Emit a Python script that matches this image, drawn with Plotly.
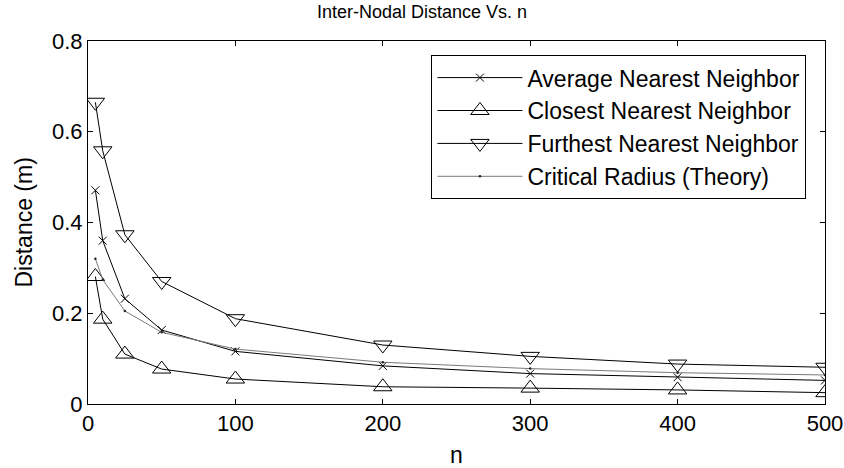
import plotly.graph_objects as go

n_vals = [5, 10, 25, 50, 100, 200, 300, 400, 500]
avg_nn = [0.471, 0.360, 0.232, 0.163, 0.116, 0.084, 0.067, 0.059, 0.052]
closest_nn = [0.281, 0.187, 0.110, 0.077, 0.055, 0.038, 0.035, 0.031, 0.025]
furthest_nn = [0.665, 0.558, 0.373, 0.270, 0.188, 0.130, 0.105, 0.088, 0.081]
critical_r = [0.320, 0.274, 0.205, 0.158, 0.121, 0.092, 0.078, 0.069, 0.064]

x_ticks = [0, 100, 200, 300, 400, 500]
y_ticks = [0, 0.2, 0.4, 0.6, 0.8]

FONT = "Liberation Sans, Arial, sans-serif"

fig = go.Figure()
fig.add_trace(go.Scatter(
    x=n_vals, y=avg_nn, name="Average Nearest Neighbor", mode="lines+markers",
    line=dict(color="#000000", width=1),
    marker=dict(symbol="x-thin-open", size=8, color="#000000", line=dict(width=1, color="#000000"))))
fig.add_trace(go.Scatter(
    x=n_vals, y=closest_nn, name="Closest Nearest Neighbor", mode="lines+markers",
    line=dict(color="#000000", width=1),
    marker=dict(symbol="triangle-up-open", size=16, color="#000000", line=dict(width=1, color="#000000"))))
fig.add_trace(go.Scatter(
    x=n_vals, y=furthest_nn, name="Furthest Nearest Neighbor", mode="lines+markers",
    line=dict(color="#000000", width=1),
    marker=dict(symbol="triangle-down-open", size=16, color="#000000", line=dict(width=1, color="#000000"))))
fig.add_trace(go.Scatter(
    x=n_vals, y=critical_r, name="Critical Radius (Theory)", mode="lines+markers",
    line=dict(color="#7a7a7a", width=1),
    marker=dict(symbol="circle", size=2.5, color="#222222")))

fig.update_layout(
    width=844, height=468,
    margin=dict(l=88, r=19, t=41, b=64),
    paper_bgcolor="white", plot_bgcolor="white",
    font=dict(family=FONT, size=22, color="#000000"),
    title=dict(text="Inter-Nodal Distance Vs. n", x=0.5, xref="container", xanchor="center",
               y=0.975, yref="container", yanchor="middle",
               font=dict(family=FONT, size=18, color="#000000")),
    showlegend=True,
    legend=dict(x=0.466, y=0.961, xanchor="left", yanchor="top",
                bgcolor="white", bordercolor="#000000", borderwidth=1,
                font=dict(family=FONT, size=23, color="#000000"),
                itemwidth=85, tracegroupgap=0,
                entrywidth=384, entrywidthmode="pixels"),
    annotations=[dict(text="Distance (m)", textangle=-90, xref="paper", yref="paper",
                      x=-(88 - 23) / 737, y=0.5, xanchor="center", yanchor="middle",
                      showarrow=False, font=dict(family=FONT, size=23, color="#000000"))],
)
fig.update_xaxes(
    range=[0, 500], tickvals=x_ticks, ticktext=[str(v) for v in x_ticks],
    showline=True, linecolor="#000000", linewidth=1, mirror="ticks",
    ticks="inside", ticklen=5, tickcolor="#000000", showgrid=False, zeroline=False,
    automargin=False,
    title=dict(text="n", font=dict(family=FONT, size=23), standoff=14),
    tickfont=dict(family=FONT, size=22))
fig.update_yaxes(
    range=[0, 0.8], tickvals=y_ticks, ticktext=["0", "0.2", "0.4", "0.6", "0.8"],
    showline=True, linecolor="#000000", linewidth=1, mirror="ticks",
    ticks="inside", ticklen=5, tickcolor="#000000", showgrid=False, zeroline=False,
    automargin=False,
    tickfont=dict(family=FONT, size=22))

fig.write_html("out.html")
